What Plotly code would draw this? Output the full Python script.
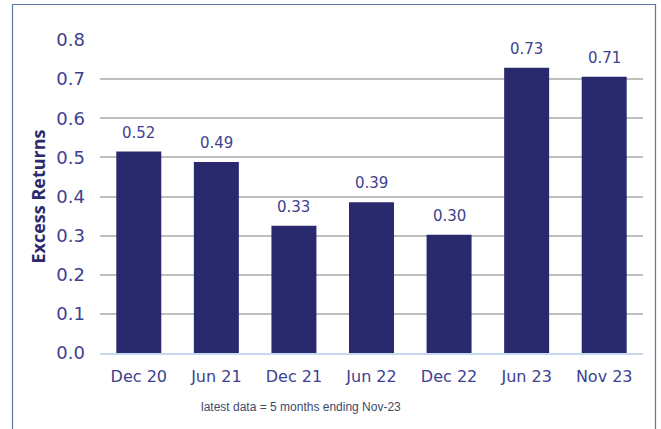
import plotly.graph_objects as go

categories = ["Dec 20", "Jun 21", "Dec 21", "Jun 22", "Dec 22", "Jun 23", "Nov 23"]
values = [0.515, 0.488, 0.325, 0.385, 0.302, 0.729, 0.706]
labels = ["0.52", "0.49", "0.33", "0.39", "0.30", "0.73", "0.71"]
y_ticks = [0.0, 0.1, 0.2, 0.3, 0.4, 0.5, 0.6, 0.7, 0.8]

W, H = 661, 429
ml, mr, mt, mb = 100, 18, 40, 76
pw, ph = W - ml - mr, H - mt - mb

def px_x(x):
    return (x - ml) / pw

def px_y(y):
    return (H - mb - y) / ph

navy = "#29296E"
label_col = "#3E4190"
font_main = "DejaVu Sans, sans-serif"

fig = go.Figure(go.Bar(
    x=categories, y=values,
    marker=dict(color=navy, line=dict(width=0)),
    hoverinfo="skip",
))

annotations = [dict(x=c, y=v, text=t, xref="x", yref="y", showarrow=False,
                    xanchor="center", yanchor="bottom", yshift=8,
                    font=dict(size=15, color=label_col, family=font_main))
               for c, v, t in zip(categories, values, labels)]
annotations.append(dict(text="latest data = 5 months ending Nov-23", xref="paper", yref="paper",
                        x=px_x(300.5), y=px_y(407), xanchor="center", yanchor="middle",
                        showarrow=False,
                        font=dict(size=12, color="#3C4A6A", family="Liberation Sans, Arial, sans-serif")))

fig.update_layout(
    width=W, height=H,
    margin=dict(l=ml, r=mr, t=mt, b=mb),
    paper_bgcolor="white", plot_bgcolor="white",
    bargap=0.42, showlegend=False,
    xaxis=dict(showgrid=False, showline=True, linecolor="#C6D9F1", linewidth=2,
               ticks="", ticklabelstandoff=8,
               tickfont=dict(size=16, color=label_col, family=font_main)),
    yaxis=dict(range=[0, 0.8], tickvals=y_ticks, tickformat=".1f",
               showgrid=True, gridcolor="#BFBFBF", gridwidth=1.5,
               zeroline=False, showline=False, ticks="", ticklabelstandoff=14,
               tickfont=dict(size=18, color=label_col, family=font_main),
               title=dict(text="<b>Excess Returns</b>", standoff=6,
                          font=dict(size=18, color="#2B2A6E", family="Open Sans, sans-serif"))),
    annotations=annotations,
    shapes=[dict(type="rect", xref="paper", yref="paper",
                 x0=px_x(12.5), x1=px_x(655.5), y0=px_y(440), y1=px_y(4.5),
                 line=dict(color="#5B77A8", width=1.2), fillcolor="rgba(0,0,0,0)", layer="below")],
)

fig.write_html("out.html", config={"displayModeBar": False},
               post_script="document.body.style.margin='0';")
